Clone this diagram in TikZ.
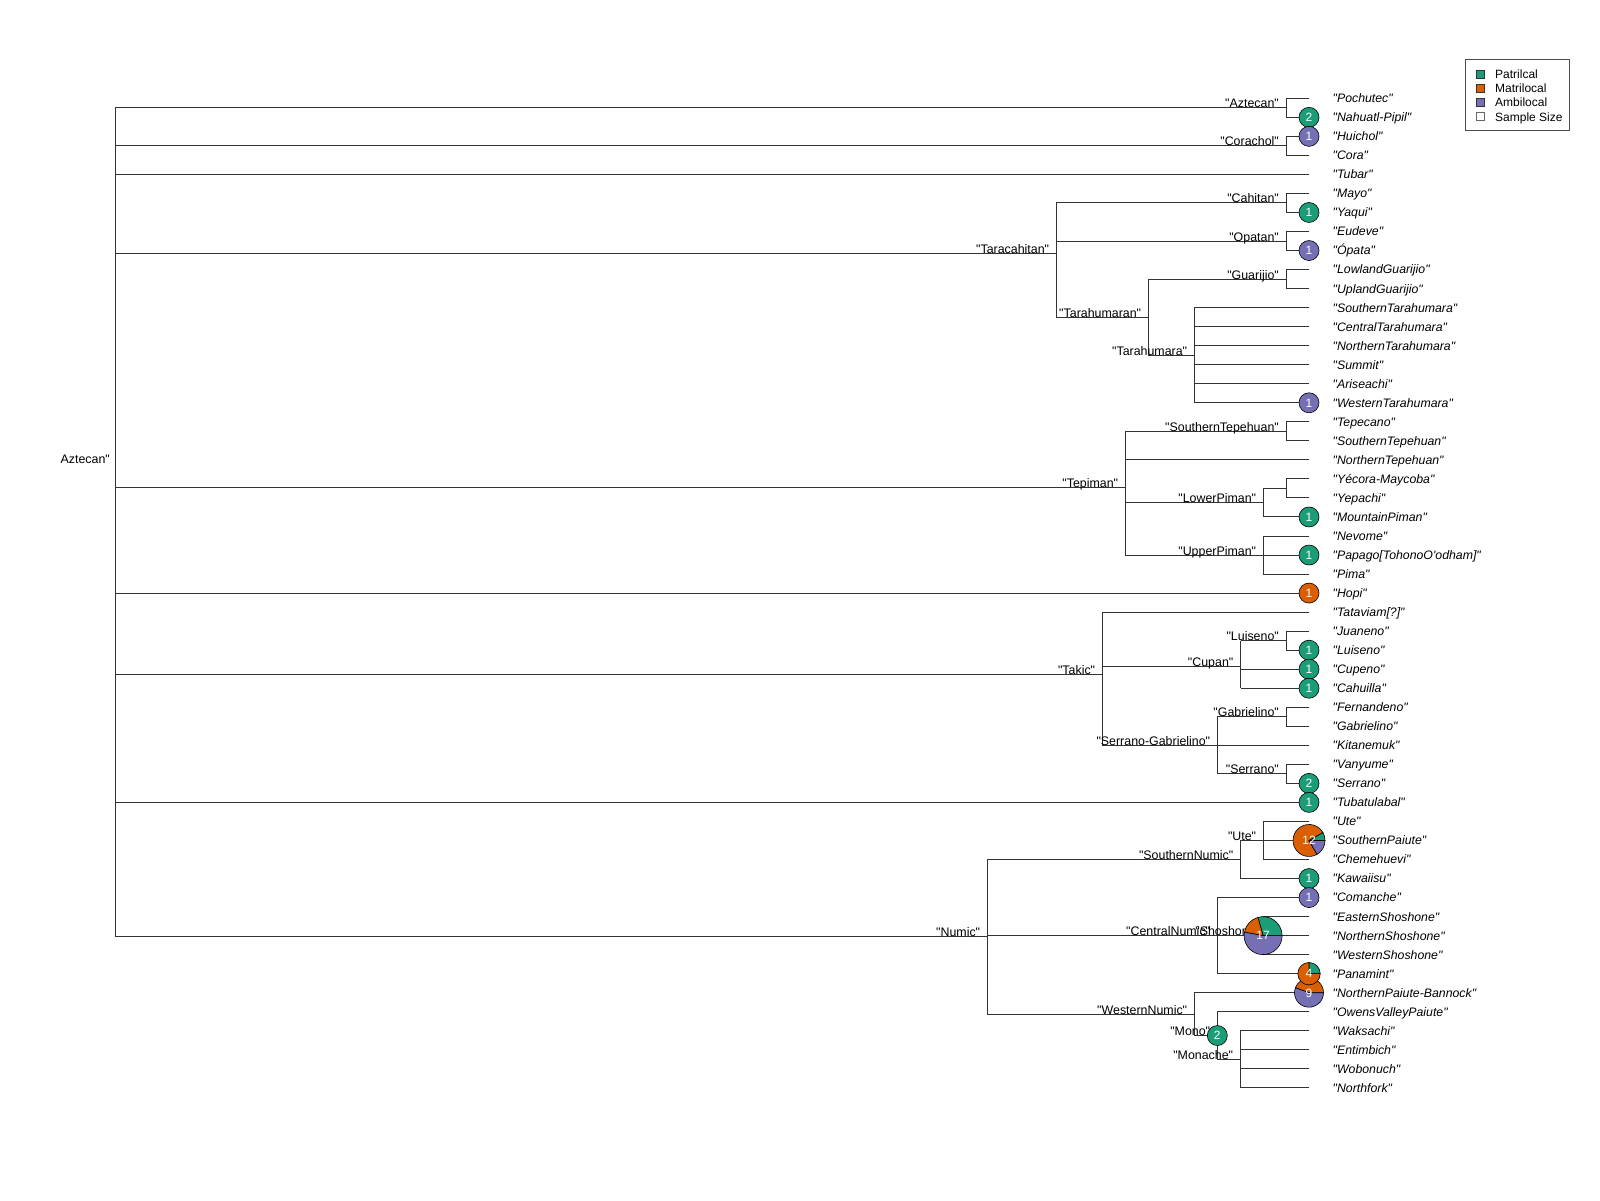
\documentclass[tikz,border=0pt]{standalone}
\usepackage{fontspec}
\setmainfont{Liberation Sans}[Ligatures=TeXOff]
\definecolor{patri}{HTML}{1B9E77}
\definecolor{matri}{HTML}{D95F02}
\definecolor{ambi}{HTML}{7570B3}
\newcommand{\rowy}[1]{79.27+19.03*(#1)}
\newcommand{\tedge}[2]{\draw[edge] (#1 |- #2) -- (#2);}
\newcommand{\tvert}[3]{\draw[edge] (#1 |- #2) -- (#1 |- #3);}
\newcommand{\pslice}[5]{\filldraw[pieline,fill=#5] (#1) -- ++(#3:#2) arc[start angle=#3, end angle=#4, radius=#2] -- cycle;}
\tikzset{
  edge/.style={draw=black!80, line width=1pt},
  tiplab/.style={anchor=west, inner sep=0pt, text height=8.8pt, text depth=0pt,
    font=\fontsize{12.3}{14}\selectfont\itshape},
  intlab/.style={anchor=base east, inner sep=0pt, font=\fontsize{12.4}{14}\selectfont},
  pielab/.style={anchor=center, inner sep=0pt, text height=8.6pt, text depth=0pt,
    text=white, font=\fontsize{12}{14}\selectfont},
  pieline/.style={draw=black, line width=0.6pt},
  leglab/.style={anchor=west, inner sep=0pt, text height=8.6pt, text depth=0pt,
    font=\fontsize{12}{14}\selectfont},
  legsq/.style={draw=black!80, line width=0.6pt},
}
\begin{document}
\begin{tikzpicture}[x=1pt,y=-1pt]
\useasboundingbox (0,0) rectangle (1600,1200);
\fill[white] (0,0) rectangle (1600,1200);

% tips
\foreach \i in {1,...,53} \coordinate (t\i) at (1309,{\rowy{\i}});

% internal nodes
\coordinate (root) at (115,{\rowy{20.2137}});
\coordinate (Azt) at (1286,{\rowy{1.5}});
\coordinate (Cor) at (1286,{\rowy{3.5}});
\coordinate (Tara) at (1056.3,{\rowy{9.16667}});
\coordinate (Cah) at (1286,{\rowy{6.5}});
\coordinate (Opa) at (1286,{\rowy{8.5}});
\coordinate (Trn) at (1148.3,{\rowy{12.5}});
\coordinate (Gua) at (1286,{\rowy{10.5}});
\coordinate (Trh) at (1194.3,{\rowy{14.5}});
\coordinate (Tep) at (1125.3,{\rowy{21.4375}});
\coordinate (STe) at (1286,{\rowy{18.5}});
\coordinate (LP) at (1263.3,{\rowy{22.25}});
\coordinate (YY) at (1286,{\rowy{21.5}});
\coordinate (UP) at (1263.3,{\rowy{25}});
\coordinate (Tak) at (1102.3,{\rowy{31.2778}});
\coordinate (Cup) at (1240.5,{\rowy{30.8333}});
\coordinate (Lui) at (1286,{\rowy{29.5}});
\coordinate (SG) at (1217.3,{\rowy{35}});
\coordinate (Gab) at (1286,{\rowy{33.5}});
\coordinate (Ser) at (1286,{\rowy{36.5}});
\coordinate (Num) at (987.3,{\rowy{45.0417}});
\coordinate (SN) at (1240.5,{\rowy{41}});
\coordinate (Ute) at (1263.3,{\rowy{40}});
\coordinate (CN) at (1217.3,{\rowy{45}});
\coordinate (Sho) at (1263.1,{\rowy{45}});
\coordinate (WN) at (1194.3,{\rowy{49.125}});
\coordinate (Mono) at (1217.3,{\rowy{50.25}});
\coordinate (Mon) at (1240.3,{\rowy{51.5}});

% vertical bars
\tvert{root}{Azt}{Num}
\tvert{Azt}{t1}{t2}
\tvert{Cor}{t3}{t4}
\tvert{Tara}{Cah}{Trn}
\tvert{Cah}{t6}{t7}
\tvert{Opa}{t8}{t9}
\tvert{Trn}{Gua}{Trh}
\tvert{Gua}{t10}{t11}
\tvert{Trh}{t12}{t17}
\tvert{Tep}{STe}{UP}
\tvert{STe}{t18}{t19}
\tvert{LP}{YY}{t23}
\tvert{YY}{t21}{t22}
\tvert{UP}{t24}{t26}
\tvert{Tak}{t28}{SG}
\tvert{Cup}{Lui}{t32}
\tvert{Lui}{t29}{t30}
\tvert{SG}{Gab}{Ser}
\tvert{Gab}{t33}{t34}
\tvert{Ser}{t36}{t37}
\tvert{Num}{SN}{WN}
\tvert{SN}{Ute}{t42}
\tvert{Ute}{t39}{t41}
\tvert{CN}{t43}{t47}
\tvert{Sho}{t44}{t46}
\tvert{WN}{t48}{Mono}
\tvert{Mono}{t49}{Mon}
\tvert{Mon}{t50}{t53}

% horizontal edges (internal)
\tedge{root}{Azt} \tedge{root}{Cor} \tedge{root}{Tara} \tedge{root}{Tep}
\tedge{root}{Tak} \tedge{root}{Num}
\tedge{Tara}{Cah} \tedge{Tara}{Opa} \tedge{Tara}{Trn}
\tedge{Trn}{Gua} \tedge{Trn}{Trh}
\tedge{Tep}{STe} \tedge{Tep}{LP} \tedge{Tep}{UP}
\tedge{LP}{YY}
\tedge{Tak}{Cup} \tedge{Tak}{SG}
\tedge{Cup}{Lui}
\tedge{SG}{Gab} \tedge{SG}{Ser}
\tedge{Num}{SN} \tedge{Num}{CN} \tedge{Num}{WN}
\tedge{SN}{Ute} \tedge{CN}{Sho} \tedge{WN}{Mono} \tedge{Mono}{Mon}

% horizontal edges (tips)
\tedge{Azt}{t1} \tedge{Azt}{t2}
\tedge{Cor}{t3} \tedge{Cor}{t4}
\tedge{root}{t5}
\tedge{Cah}{t6} \tedge{Cah}{t7}
\tedge{Opa}{t8} \tedge{Opa}{t9}
\tedge{Gua}{t10} \tedge{Gua}{t11}
\foreach \i in {12,...,17} {\tedge{Trh}{t\i}}
\tedge{STe}{t18} \tedge{STe}{t19}
\tedge{Tep}{t20}
\tedge{YY}{t21} \tedge{YY}{t22}
\tedge{LP}{t23}
\tedge{UP}{t24} \tedge{UP}{t25} \tedge{UP}{t26}
\tedge{root}{t27}
\tedge{Tak}{t28}
\tedge{Lui}{t29} \tedge{Lui}{t30}
\tedge{Cup}{t31} \tedge{Cup}{t32}
\tedge{Gab}{t33} \tedge{Gab}{t34}
\tedge{SG}{t35}
\tedge{Ser}{t36} \tedge{Ser}{t37}
\tedge{root}{t38}
\tedge{Ute}{t39} \tedge{Ute}{t40} \tedge{Ute}{t41}
\tedge{SN}{t42}
\tedge{CN}{t43}
\tedge{Sho}{t44} \tedge{Sho}{t45} \tedge{Sho}{t46}
\tedge{CN}{t47}
\tedge{WN}{t48}
\tedge{Mono}{t49}
\foreach \i in {50,...,53} {\tedge{Mon}{t\i}}

% internal labels
\node[intlab] (Lroot) at ([xshift=-5pt]root) {Aztecan"};
\foreach \n/\lab in {Azt/Aztecan, Cor/Corachol, Tara/Taracahitan, Cah/Cahitan,
  Opa/Opatan, Trn/Tarahumaran, Gua/Guarijio, Trh/Tarahumara, Tep/Tepiman,
  STe/SouthernTepehuan, LP/LowerPiman, UP/UpperPiman, Tak/Takic, Cup/Cupan,
  Lui/Luiseno, SG/Serrano-Gabrielino, Gab/Gabrielino, Ser/Serrano, Num/Numic,
  SN/SouthernNumic, Ute/Ute, CN/CentralNumic, Sho/Shoshoni, WN/WesternNumic,
  Mono/Mono, Mon/Monache}
  {\node[intlab] (L\n) at ([xshift=-7pt]\n) {"\lab"};}

% tip labels
\foreach \i/\lab in {1/Pochutec, 2/Nahuatl-Pipil, 3/Huichol, 4/Cora, 5/Tubar,
  6/Mayo, 7/Yaqui, 8/Eudeve, 9/Ópata, 10/LowlandGuarijio, 11/UplandGuarijio,
  12/SouthernTarahumara, 13/CentralTarahumara, 14/NorthernTarahumara,
  15/Summit, 16/Ariseachi, 17/WesternTarahumara, 18/Tepecano,
  19/SouthernTepehuan, 20/NorthernTepehuan, 21/Yécora-Maycoba, 22/Yepachi,
  23/MountainPiman, 24/Nevome, 25/Papago[TohonoO'odham], 26/Pima, 27/Hopi,
  28/Tataviam[?], 29/Juaneno, 30/Luiseno, 31/Cupeno, 32/Cahuilla,
  33/Fernandeno, 34/Gabrielino, 35/Kitanemuk, 36/Vanyume, 37/Serrano,
  38/Tubatulabal, 39/Ute, 40/SouthernPaiute, 41/Chemehuevi, 42/Kawaiisu,
  43/Comanche, 44/EasternShoshone, 45/NorthernShoshone, 46/WesternShoshone,
  47/Panamint, 48/NorthernPaiute-Bannock, 49/OwensValleyPaiute, 50/Waksachi,
  51/Entimbich, 52/Wobonuch, 53/Northfork}
  {\node[tiplab] (l\i) at ([xshift=23.5pt]t\i) {"\lab"};}

% single-colour circles
\foreach \i/\c/\n in {2/patri/2, 3/ambi/1, 7/patri/1, 9/ambi/1, 17/ambi/1,
  23/patri/1, 25/patri/1, 27/matri/1, 30/patri/1, 31/patri/1, 32/patri/1,
  37/patri/2, 38/patri/1, 42/patri/1, 43/ambi/1}
  {\filldraw[pieline,fill=\c] (t\i) circle[radius=10pt];
   \node[pielab] (p\i) at (t\i) {\n};}

% Southern Paiute: 1 / 9 / 2
\pslice{t40}{16pt}{0}{30}{patri}
\pslice{t40}{16pt}{30}{300}{matri}
\pslice{t40}{16pt}{300}{360}{ambi}
\node[pielab] (p40) at (t40) {12};

% Shoshoni node: 5 / 3 / 9
\pslice{Sho}{19pt}{0}{105.88}{patri}
\pslice{Sho}{19pt}{105.88}{169.41}{matri}
\pslice{Sho}{19pt}{169.41}{360}{ambi}
\node[pielab] (pSho) at (Sho) {17};

% Northern Paiute-Bannock: 0 / 4 / 5
\pslice{t48}{14.5pt}{0}{160}{matri}
\pslice{t48}{14.5pt}{160}{360}{ambi}
\node[pielab] (p48) at (t48) {9};

% Panamint: 1 / 3 / 0
\pslice{t47}{11.2pt}{0}{90}{patri}
\pslice{t47}{11.2pt}{90}{360}{matri}
\node[pielab] (p47) at (t47) {4};

% Mono node
\filldraw[pieline,fill=patri] (Mono) circle[radius=10pt];
\node[pielab] (pMono) at (Mono) {2};

% legend
\draw[draw=black!70, line width=0.8pt] (1465.3,59.3) rectangle (1569.3,130.7);
\filldraw[legsq,fill=patri] (1476,70) rectangle (1484,78);
\filldraw[legsq,fill=matri] (1476,84.2) rectangle (1484,92.2);
\filldraw[legsq,fill=ambi] (1476,98.5) rectangle (1484,106.5);
\filldraw[legsq,fill=white,draw=black!60] (1476,112.7) rectangle (1484,120.7);
\node[leglab] (lg1) at (1495,74) {Patrilcal};
\node[leglab] (lg2) at (1495,88.2) {Matrilocal};
\node[leglab] (lg3) at (1495,102.5) {Ambilocal};
\node[leglab] (lg4) at (1495,116.7) {Sample Size};
\end{tikzpicture}
\end{document}
